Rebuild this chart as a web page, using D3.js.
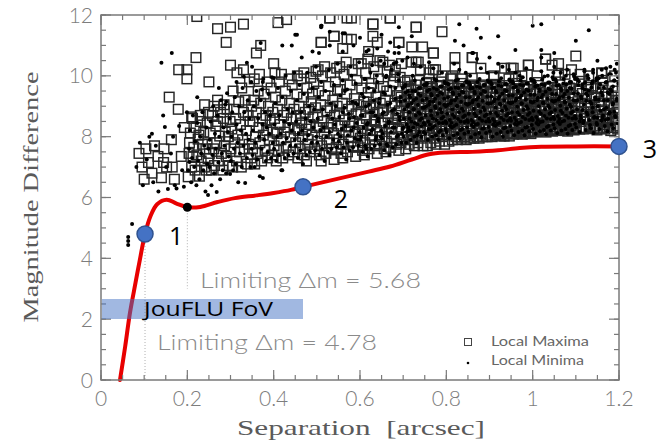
<!DOCTYPE html>
<html><head><meta charset="utf-8">
<script src="https://cdn.jsdelivr.net/npm/d3@7"></script>
<style>body{margin:0;background:#fff}svg{display:block}</style>
</head><body>
<svg id="c" width="665" height="442"></svg>
<script>
// ---- data ----
const xTickLabels = [0, 0.2, 0.4, 0.6, 0.8, 1, 1.2];
const yTickLabels = [0, 2, 4, 6, 8, 10, 12];
// Detection limit curve [separation arcsec, magnitude difference]
const limitCurve = [[0.044,0],[0.056,1.1],[0.067,2.2],[0.08,3.2],[0.09,3.95],[0.102,4.8],[0.115,5.4],[0.13,5.78],[0.152,5.93],[0.175,5.8],[0.2,5.68],[0.23,5.69],[0.27,5.85],[0.31,5.98],[0.36,6.07],[0.40,6.15],[0.44,6.25],[0.468,6.35],[0.55,6.62],[0.62,6.85],[0.67,7.02],[0.72,7.25],[0.76,7.42],[0.80,7.48],[0.86,7.5],[0.92,7.55],[0.97,7.63],[1.02,7.67],[1.1,7.68],[1.2,7.68]];
const markedPoints = [{x:0.102,y:4.8,label:"1"},{x:0.468,y:6.35,label:"2"},{x:1.2,y:7.68,label:"3"}];
const limitDot = {x:0.2, y:5.68};
const limitTexts = ["Limiting \u0394m = 5.68", "Limiting \u0394m = 4.78"];
// Local maxima (squares) / minima (dots): "x y" with x in 1/1000 arcsec, y in 1/100 mag
const localMaxima = `
88 745,95 700,100 660,104 760,110 715,118 680,124 770,132 735,140 665,146 760,152 700,158 930,163 790,170 660,179 890,180 1020,186 735,193 830,199 1020,199 990,165 700,145 715,
202 668,204 745,207 812,210 700,212 860,215 765,218 690,220 830,222 740,225 792,228 670,230 850,232 720,235 775,238 815,240 700,243 760,246 845,248 728,205 780,213 735,227 805,244 690,210 865,230 870,240 905,249 880,220 1060,222 1195,
251 745,253 812,256 690,258 870,261 760,263 705,266 835,268 780,270 850,272 720,275 802,277 880,279 745,282 690,284 860,286 770,288 815,290 735,292 890,295 800,297 705,299 850,262 900,270 920,285 905,250 980,270 1155,300 1160,290 1110,300 1035,
301 760,303 825,305 700,308 890,310 780,312 860,314 720,317 805,319 915,321 750,323 840,325 700,328 790,330 880,332 760,334 920,337 820,339 710,341 870,343 775,345 850,347 730,349 900,306 950,326 960,344 980,330 1170,330 1020,315 1010,
351 760,352 850,354 920,356 710,358 800,360 880,362 745,364 950,366 830,368 780,370 910,372 720,374 860,376 805,378 940,380 755,382 870,384 820,386 730,388 900,390 790,392 855,394 960,396 740,398 880,399 815,355 990,367 1005,385 980,360 1075,370 1100,
401 770,402 860,404 930,406 720,408 810,409 890,411 755,413 980,415 840,417 790,419 920,421 730,423 870,425 815,427 950,429 765,431 880,433 830,435 740,437 910,439 800,441 860,443 970,445 750,447 890,449 825,403 1010,418 1005,436 990,400 1040,410 1175,430 1185,
451 780,452 860,454 940,456 730,458 820,459 900,461 760,463 990,465 845,467 800,469 930,471 740,473 880,475 825,477 960,479 775,481 890,483 840,485 750,487 915,489 805,491 865,493 975,495 760,497 895,499 830,455 1000,470 1010,486 995,498 1015,462 870,476 720,490 940,480 790,
501 785,502 870,504 950,506 740,507 830,509 905,511 770,513 1000,515 850,517 810,519 935,521 745,523 885,525 830,527 965,529 780,531 895,533 845,535 760,537 920,539 810,541 870,543 980,545 765,547 900,549 835,503 1020,518 1030,532 1010,546 1025,510 720,524 790,540 725,548 955,510 1110,540 1130,530 1190,
551 790,552 875,554 955,556 745,557 835,559 910,561 775,563 1005,565 855,567 815,569 940,571 750,573 890,575 835,577 970,579 785,581 900,583 850,585 765,587 925,589 815,591 875,593 985,595 770,597 905,599 840,553 1030,568 1045,582 1020,596 1040,560 730,574 800,590 735,570 1120,580 1190,560 1090,
601 795,602 880,604 960,606 755,607 840,609 915,611 780,613 1010,615 860,617 820,619 945,621 760,623 895,625 840,627 975,629 790,631 905,633 855,635 770,637 930,639 820,641 880,643 990,645 775,647 910,649 845,603 1040,618 1055,632 1030,646 1050,610 740,624 805,640 745,630 1170,640 1110,620 1080,
651 800,652 885,654 965,656 760,657 845,659 920,661 785,663 1015,665 865,667 825,669 950,671 765,673 900,675 845,677 980,679 795,681 910,683 860,685 775,687 935,689 825,691 885,693 995,695 780,697 915,699 850,653 1045,668 1035,682 1020,696 1040,660 750,674 810,690 755,670 1190,690 1110,
605 820,615 900,625 960,635 850,645 800,655 890,662 950,672 830,680 1000,688 870,695 930,698 800,
701 790,702 850,703 920,704 980,706 760,707 830,708 895,709 955,711 800,712 870,713 930,714 775,716 845,717 910,718 965,719 815,721 880,722 790,723 940,724 860,726 770,727 825,728 900,729 970,731 805,732 860,733 930,734 780,736 845,737 905,738 985,739 820,741 875,742 795,743 945,744 860,746 770,747 830,748 915,749 880,720 1045,740 1020,730 1160,745 1095,735 1045,
751 800,752 860,753 925,754 975,756 770,757 835,758 900,759 950,761 805,762 875,763 935,764 780,766 850,767 910,768 960,769 820,771 885,772 795,773 940,774 865,776 775,777 830,778 905,779 965,781 810,782 865,783 930,784 785,786 850,787 910,788 980,789 825,791 880,792 800,793 945,794 860,796 775,797 835,798 915,799 885,760 1010,790 1000,770 1075,775 1020,
801 805,802 865,803 920,804 970,806 785,807 840,808 900,809 950,811 810,812 875,813 930,814 790,816 850,817 905,818 960,819 820,821 885,822 800,823 940,824 865,826 790,827 830,828 905,829 965,831 810,832 865,833 925,834 795,836 850,837 910,838 975,839 825,841 880,842 800,843 945,844 860,846 790,847 835,848 915,849 885,815 1000,835 990,820 1060,
851 805,852 860,853 920,854 965,856 795,857 835,858 895,859 950,861 810,862 870,863 930,864 795,866 850,867 905,868 960,869 820,871 880,872 800,873 940,874 860,876 795,877 830,878 900,879 965,881 810,882 865,883 925,884 800,886 845,887 910,888 970,889 825,891 880,892 800,893 945,894 855,896 800,897 835,898 915,899 880,860 1060,880 1025,
901 805,902 855,903 915,904 962,906 800,907 838,908 898,909 948,911 812,912 868,913 928,914 805,916 852,917 902,918 958,919 818,921 878,922 808,923 938,924 858,926 802,927 832,928 898,929 962,931 808,932 868,933 922,934 802,936 848,937 908,938 968,939 828,941 882,942 812,943 942,944 858,946 802,947 838,948 912,949 878,910 1000,935 1025,945 990,
951 810,952 862,953 918,954 958,956 808,957 842,958 892,959 945,961 815,962 872,963 925,964 810,966 855,967 898,968 955,969 822,971 875,972 812,973 935,974 862,976 808,977 828,978 895,979 960,981 812,982 870,983 918,984 815,986 845,987 905,988 965,989 830,991 885,992 815,993 940,994 855,996 810,997 840,998 910,999 875,955 1025,990 1035,975 1000,
1001 818,1002 858,1003 915,1004 955,1006 815,1007 845,1008 890,1009 942,1011 818,1012 870,1013 922,1014 820,1016 858,1017 895,1018 952,1019 825,1021 872,1022 822,1023 932,1024 865,1026 818,1027 825,1028 892,1029 958,1031 815,1032 868,1033 915,1034 822,1036 842,1037 902,1038 962,1039 832,1041 882,1042 820,1043 938,1044 852,1046 818,1047 842,1048 908,1049 872,1030 1055,1045 1035,1060 1040,
1051 825,1052 862,1053 912,1054 952,1056 822,1057 848,1058 895,1059 940,1061 820,1062 875,1063 920,1064 828,1066 855,1067 900,1068 950,1069 828,1071 878,1072 825,1073 930,1074 862,1076 822,1077 830,1078 888,1079 955,1081 818,1082 865,1083 912,1084 826,1086 845,1087 898,1088 958,1089 835,1091 885,1092 825,1093 935,1094 855,1096 822,1097 845,1098 905,1099 870,1075 1005,1090 1020,
1101 828,1103 865,1105 915,1107 950,1109 825,1111 850,1113 898,1115 942,1117 825,1119 880,1121 925,1123 830,1125 860,1127 905,1129 955,1131 832,1133 882,1135 828,1137 935,1139 865,1141 826,1143 835,1145 890,1147 958,1149 822,1151 870,1153 915,1155 828,1157 850,1159 900,1161 962,1163 840,1165 888,1167 825,1169 940,1171 858,1173 830,1175 848,1177 908,1179 875,1181 820,1183 930,1185 860,1187 830,1189 895,1191 950,1193 835,1195 880,1197 825,1199 920,1130 1000,1160 1010,1190 1000,
1030 1055,1100 1065,990 1035,950 1025,860 1060,820 1025,770 1075,720 1095,730 1045,770 1020,790 1145,730 1160,670 1190,630 1170,570 1190,530 1190,510 1110,540 1130,580 1120,630 1130,690 1110,
705 870,713 960,720 820,728 875,735 940,743 905,748 850,710 985,725 915,740 830,
755 880,763 965,770 840,778 880,785 945,793 910,798 855,760 990,775 920,790 835,
805 885,813 968,820 845,828 885,835 948,843 912,848 858,810 990,825 925,840 838,
855 888,863 970,870 848,878 888,885 950,893 915,898 860,860 992,875 928,890 840,
905 890,913 972,920 850,928 890,935 952,943 918,948 862,910 995,925 930,940 845,
955 892,963 975,970 852,978 892,985 955,993 920,998 865,960 998,975 932,990 848,
1005 895,1013 978,1020 855,1028 895,1035 958,1043 922,1048 868,1010 1000,1025 935,1040 850,
1055 898,1063 980,1070 858,1078 898,1085 960,1093 925,1098 870,1060 1002,1075 938,1090 852,
1105 900,1113 982,1120 860,1128 900,1135 962,1143 928,1148 872,1110 1005,1125 940,1140 855,
1155 902,1163 985,1170 862,1178 902,1185 965,1193 930,1198 875,1160 1008,1175 942,1190 858`;
const localMinima = `
63 444,63 457,63 470,72 513,
82 700,90 780,97 640,106 725,112 800,118 810,121 650,127 770,133 620,140 1043,144 870,148 832,151 700,155 628,162 745,167 800,171 640,175 630,181 835,188 690,192 635,199 880,205 717,164 1075,
202 690,204 760,206 820,209 650,211 730,213 870,216 700,218 785,221 640,223 845,225 720,228 660,230 800,232 745,235 880,237 690,239 770,242 620,244 830,246 710,248 608,249 760,223 930,
251 700,252 790,254 850,256 640,258 740,260 900,262 680,264 810,266 760,268 618,270 870,272 715,274 800,276 660,278 920,280 745,282 690,284 830,286 770,288 905,290 680,292 943,294 815,296 735,298 860,299 677,273 960,290 915,
301 720,302 800,304 880,306 690,308 760,310 930,312 710,314 840,316 780,318 650,320 900,322 745,324 820,326 700,328 960,330 770,332 880,334 648,336 810,338 730,340 920,342 790,344 860,346 700,348 980,349 760,314 980,331 997,338 1043,350 1030,
351 740,352 820,354 900,356 700,358 780,360 950,362 725,364 860,366 800,368 670,370 920,372 760,374 840,375 664,376 990,378 790,380 880,382 720,384 830,386 750,388 940,390 810,392 870,394 730,396 995,398 780,373 955,375 980,400 993,370 1108,
401 760,402 840,404 910,406 720,408 800,410 960,412 740,414 870,416 810,418 690,420 930,422 780,424 850,426 730,428 1000,430 795,432 890,434 740,436 840,438 770,440 950,442 820,444 880,446 745,448 1010,449 790,420 690,442 1100,454 1135,
451 770,452 850,454 920,456 730,458 810,460 970,462 755,464 880,466 820,468 710,470 940,472 790,474 860,476 740,478 1010,480 805,482 900,484 750,486 850,488 780,490 960,492 830,494 890,496 755,498 1030,499 800,465 1060,490 1080,
501 780,502 860,504 930,506 740,508 820,510 980,512 760,514 890,516 830,518 720,520 950,522 800,524 870,526 750,528 1020,530 815,532 910,534 760,536 860,538 790,540 970,542 840,544 900,546 765,548 1040,549 810,505 1075,530 1100,511 1165,
551 785,552 865,554 935,556 745,558 825,560 985,562 765,564 895,566 835,568 725,570 955,572 805,574 875,576 755,578 1030,580 820,582 915,584 765,586 865,588 795,590 975,592 845,594 905,596 770,598 1045,599 815,560 1080,585 1100,
555 800,560 880,565 950,570 780,575 860,580 1000,585 830,590 910,595 790,
601 790,602 870,604 940,606 750,608 830,610 990,612 770,614 900,616 840,618 735,620 960,622 810,624 880,626 760,628 1035,630 825,632 920,634 770,636 870,638 800,640 980,642 850,644 910,646 775,648 1050,649 820,615 1080,640 1090,
603 800,606 870,609 930,612 990,615 760,618 845,621 905,624 1010,627 820,630 880,633 950,636 790,639 1000,642 860,645 925,648 800,
651 795,652 875,654 945,656 755,658 835,660 995,662 775,664 905,666 845,668 740,670 965,672 815,674 885,676 765,678 1040,680 830,682 925,684 775,686 875,688 805,690 985,692 855,694 915,696 780,698 1050,699 825,665 1080,690 1075,
652 810,655 880,658 940,661 1000,664 770,667 850,670 910,673 1020,676 830,679 890,682 960,685 800,688 1005,691 865,694 930,697 810,699 960,656 1040,684 1045,
701 800,702 860,704 920,705 970,707 780,708 840,710 900,711 950,713 820,714 880,716 930,717 790,719 850,720 910,722 1000,723 830,725 890,726 800,728 950,729 870,731 780,733 840,734 905,736 960,737 815,739 875,740 935,742 800,743 860,745 920,746 990,748 845,749 895,725 1040,740 1030,710 1060,
751 810,752 870,754 925,755 975,757 790,758 850,760 905,761 955,763 825,764 885,766 935,767 800,769 860,770 915,772 990,773 835,775 895,776 805,778 955,779 875,781 790,783 845,784 910,786 965,787 820,789 880,790 940,792 805,793 865,795 925,796 980,798 850,799 900,770 1025,760 1045,790 1010,
801 815,802 875,804 930,805 972,807 795,808 855,810 910,811 958,813 830,814 890,816 940,817 805,819 865,820 920,822 985,823 840,825 900,826 810,828 960,829 880,831 795,833 850,834 915,836 968,837 825,839 885,840 945,842 810,843 870,845 930,846 982,848 855,849 905,818 1040,830 1020,845 1010,855 1000,
851 815,852 875,854 930,855 970,857 798,858 855,860 912,861 960,863 832,864 892,866 942,867 808,869 868,870 922,872 980,873 842,875 902,876 812,878 962,879 882,881 798,883 852,884 918,886 970,887 828,889 888,890 948,892 812,893 872,895 932,896 985,898 858,899 908,862 1075,871 1055,880 1025,895 1010,
901 818,902 878,904 932,905 972,907 800,908 858,910 915,911 962,913 835,914 895,916 945,917 810,919 870,920 925,922 982,923 845,925 905,926 815,928 965,929 885,931 800,933 855,934 920,936 972,937 830,939 890,940 950,942 815,943 875,945 935,946 988,948 860,949 910,915 1010,930 1030,945 1020,
951 820,952 880,954 935,955 975,957 805,958 862,960 918,961 965,963 838,964 898,966 948,967 815,969 872,970 928,972 985,973 848,975 908,976 820,978 968,979 888,981 805,983 858,984 922,986 975,987 832,989 892,990 952,992 818,993 878,995 938,996 990,998 862,999 912,960 1010,985 1025,970 1000,
1001 825,1002 885,1004 938,1005 978,1007 810,1008 865,1010 920,1011 968,1013 840,1014 900,1016 950,1017 818,1019 875,1020 930,1022 988,1023 850,1025 910,1026 822,1028 970,1029 890,1031 808,1033 860,1034 925,1036 978,1037 835,1039 895,1040 955,1042 820,1043 880,1045 940,1046 995,1048 865,1049 915,1020 1015,1035 1000,1048 1010,
1051 828,1052 888,1054 940,1055 980,1057 812,1058 868,1060 922,1061 970,1063 842,1064 902,1066 952,1067 820,1069 878,1070 932,1072 990,1073 852,1075 912,1076 825,1078 972,1079 892,1081 810,1083 862,1084 928,1086 980,1087 838,1089 898,1090 958,1092 822,1093 882,1095 942,1096 998,1098 868,1099 918,1065 1010,1080 1020,1095 1005,
1101 830,1103 890,1105 942,1107 982,1109 815,1111 870,1113 925,1115 972,1117 845,1119 905,1121 955,1123 822,1125 880,1127 935,1129 992,1131 855,1133 915,1135 828,1137 975,1139 895,1141 812,1143 865,1145 930,1147 985,1149 840,1151 900,1153 960,1155 825,1157 885,1159 945,1161 1000,1163 870,1165 920,1167 835,1169 978,1171 895,1173 818,1175 858,1177 940,1179 880,1181 1005,1183 950,1185 905,1187 828,1189 985,1191 868,1193 1010,1195 920,1197 845,1199 975,1120 1020,1140 1010,1160 1020,1180 1030,1195 1040,1150 1050,
830 1170,870 1155,1000 1165,1020 1170,1130 1150,820 1115,880 1125,920 1130,960 1085,1020 1085,1100 1115,840 1100,860 1075,1050 1075,1020 1060,510 1165,900 1060,920 1040,1050 1030,1120 1015,1170 1025,1190 1020,1140 1020,
560 1140,600 1125,650 1135,690 1160,720 1130,620 1085,680 1075,690 1095,670 1110,450 1135,420 1100,510 1160,530 1145,565 1140,
700 830,703 890,706 945,709 815,712 905,715 860,718 820,721 950,724 890,727 845,730 925,733 805,736 880,739 960,742 835,745 895,748 815,703 965,715 935,727 985,739 855,712 830,724 920,736 940,748 970,
750 840,753 900,756 950,759 825,762 915,765 870,768 830,771 960,774 900,777 855,780 935,783 815,786 890,789 965,792 845,795 905,798 825,753 970,765 940,777 985,789 860,762 840,774 925,786 945,798 975,
800 845,803 905,806 955,809 835,812 918,815 872,818 835,821 962,824 902,827 858,830 938,833 822,836 892,839 968,842 848,845 908,848 830,803 975,815 945,827 988,839 865,812 845,824 928,836 948,848 978,
850 848,853 908,856 958,859 838,862 920,865 875,868 840,871 965,874 905,877 860,880 940,883 825,886 895,889 970,892 850,895 910,898 832,853 978,865 948,877 990,889 868,862 848,874 930,886 950,898 980,
900 850,903 910,906 960,909 840,912 922,915 878,918 842,921 968,924 908,927 862,930 942,933 828,936 898,939 972,942 852,945 912,948 835,903 980,915 950,927 992,939 870,912 850,924 932,936 952,948 982,
950 852,953 912,956 962,959 842,962 925,965 880,968 845,971 970,974 910,977 865,980 945,983 830,986 900,989 975,992 855,995 915,998 838,953 982,965 952,977 995,989 872,962 852,974 935,986 955,998 985,
1000 855,1003 915,1006 965,1009 845,1012 928,1015 882,1018 848,1021 972,1024 912,1027 868,1030 948,1033 832,1036 902,1039 978,1042 858,1045 918,1048 840,1003 985,1015 955,1027 998,1039 875,1012 855,1024 938,1036 958,1048 988,
1050 858,1053 918,1056 968,1059 848,1062 930,1065 885,1068 850,1071 975,1074 915,1077 870,1080 950,1083 835,1086 905,1089 980,1092 860,1095 920,1098 842,1053 988,1065 958,1077 1000,1089 878,1062 858,1074 940,1086 960,1098 990,
1100 860,1103 920,1106 970,1109 850,1112 932,1115 888,1118 852,1121 978,1124 918,1127 872,1130 952,1133 838,1136 908,1139 982,1142 862,1145 922,1148 845,1103 990,1115 960,1127 1002,1139 880,1112 860,1124 942,1136 962,1148 992,
1150 862,1153 922,1156 972,1159 852,1162 935,1165 890,1168 855,1171 980,1174 920,1177 875,1180 955,1183 840,1186 910,1189 985,1192 865,1195 925,1198 848,1153 992,1165 962,1177 1005,1189 882,1162 862,1174 945,1186 965,1198 995`;

function parsePairs(s){
  return s.split(/[,\n]+/).map(t=>t.trim()).filter(Boolean).map(t=>{
    const p=t.split(/\s+/); return {x:+p[0]/1000, y:+p[1]/100};
  });
}
const maxima = parsePairs(localMaxima);
const minima = parsePairs(localMinima);

// ---- layout ----
const svg = d3.select("#c");
const x = d3.scaleLinear().domain([0,1.2]).range([101,619]);
const y = d3.scaleLinear().domain([0,12]).range([380,15]);
const gray = "#7a7a7a";

svg.append("defs").append("clipPath").attr("id","plot")
  .append("rect").attr("x",101).attr("y",15).attr("width",518).attr("height",365);

const plot = svg.append("g").attr("clip-path","url(#plot)");

plot.append("g").selectAll("rect").data(maxima).join("rect")
  .attr("x",d=>x(d.x)-4.8).attr("y",d=>y(d.y)-4.8)
  .attr("width",9.6).attr("height",9.6)
  .attr("fill","none").attr("stroke","#262626").attr("stroke-width",1.45);
plot.append("g").selectAll("circle").data(minima).join("circle")
  .attr("cx",d=>x(d.x)).attr("cy",d=>y(d.y)).attr("r",2.0).attr("fill","#000");

// dotted guide lines
svg.append("line").attr("x1",x(markedPoints[0].x)).attr("x2",x(markedPoints[0].x))
  .attr("y1",y(markedPoints[0].y)).attr("y2",y(0))
  .attr("stroke","#b0b0b0").attr("stroke-width",1).attr("stroke-dasharray","1,2");
svg.append("line").attr("x1",x(limitDot.x)).attr("x2",x(limitDot.x))
  .attr("y1",y(limitDot.y)).attr("y2",y(3.0))
  .attr("stroke","#b0b0b0").attr("stroke-width",1).attr("stroke-dasharray","1,2");

// curve
const line = d3.line().x(d=>x(d[0])).y(d=>y(d[1])).curve(d3.curveCatmullRom.alpha(0.5));
svg.append("path").attr("d",line(limitCurve)).attr("fill","none")
  .attr("stroke","#e80000").attr("stroke-width",4).attr("stroke-linecap","round");

svg.append("circle").attr("cx",x(limitDot.x)).attr("cy",y(limitDot.y)).attr("r",4.5).attr("fill","#000");

// frame and ticks
const frame = svg.append("g");
frame.append("rect").attr("x",101).attr("y",15).attr("width",518).attr("height",365)
  .attr("fill","none").attr("stroke",gray).attr("stroke-width",1.5);
const xMinor = d3.range(0,1.2001,0.05), xMajor = d3.range(0,1.2001,0.2);
const yMinor = d3.range(0,12.001,0.5), yMajor = d3.range(0,12.001,2);
function ticksX(vals,len){
  vals.forEach(v=>{
    frame.append("line").attr("x1",x(v)).attr("x2",x(v)).attr("y1",380).attr("y2",380-len).attr("stroke",gray).attr("stroke-width",1.2);
    frame.append("line").attr("x1",x(v)).attr("x2",x(v)).attr("y1",15).attr("y2",15+len).attr("stroke",gray).attr("stroke-width",1.2);
  });
}
function ticksY(vals,len){
  vals.forEach(v=>{
    frame.append("line").attr("y1",y(v)).attr("y2",y(v)).attr("x1",101).attr("x2",101+len).attr("stroke",gray).attr("stroke-width",1.2);
    frame.append("line").attr("y1",y(v)).attr("y2",y(v)).attr("x1",619).attr("x2",619-len).attr("stroke",gray).attr("stroke-width",1.2);
  });
}
ticksX(xMinor,5); ticksX(xMajor,10); ticksY(yMinor,5); ticksY(yMajor,10);

const lab = svg.append("g").attr("font-family","Lato, 'DejaVu Sans', sans-serif").attr("font-weight",300).attr("fill","#7d7d7d");
lab.selectAll("text.xt").data(xTickLabels).join("text").attr("class","xt")
  .attr("x",d=>x(d)).attr("y",406).attr("text-anchor","middle").attr("font-size",21)
  .text(d=>d===0?"0":d===1?"1":d.toFixed(1));
lab.selectAll("text.yt").data(yTickLabels).join("text").attr("class","yt")
  .attr("x",93).attr("y",d=>y(d)+7.5).attr("text-anchor","end").attr("font-size",21)
  .text(d=>d);

// axis titles
svg.append("text").attr("x",361).attr("y",435).attr("text-anchor","middle")
  .attr("font-family","'Liberation Serif', 'DejaVu Serif', serif").attr("font-size",22).attr("fill","#5a5a5a")
  .attr("textLength",248).attr("lengthAdjust","spacingAndGlyphs").attr("xml:space","preserve").text("Separation  [arcsec]");
svg.append("text").attr("transform","translate(38,197) rotate(-90)").attr("text-anchor","middle")
  .attr("font-family","'Liberation Serif', 'DejaVu Serif', serif").attr("font-size",22).attr("fill","#5a5a5a")
  .attr("textLength",251).attr("lengthAdjust","spacingAndGlyphs").text("Magnitude Difference");

// limiting texts
svg.append("text").attr("x",200).attr("y",288).attr("font-family","Lato, sans-serif").attr("font-weight",300)
  .attr("font-size",21).attr("fill","#8a8a8a").attr("textLength",221).attr("lengthAdjust","spacingAndGlyphs").text(limitTexts[0]);
svg.append("text").attr("x",157).attr("y",350).attr("font-family","Lato, sans-serif").attr("font-weight",300)
  .attr("font-size",21).attr("fill","#8a8a8a").attr("textLength",220).attr("lengthAdjust","spacingAndGlyphs").text(limitTexts[1]);

// JouFLU FoV band
svg.append("rect").attr("x",102).attr("y",299).attr("width",201).attr("height",20)
  .attr("fill","#4472c4").attr("fill-opacity",0.5);
svg.append("text").attr("x",144).attr("y",316).attr("font-family","'Open Sans', 'Noto Sans', sans-serif")
  .attr("font-size",20).attr("fill","#000").attr("textLength",129).attr("lengthAdjust","spacingAndGlyphs").text("JouFLU FoV");

// marked blue points + labels
svg.selectAll("circle.mp").data(markedPoints).join("circle").attr("class","mp")
  .attr("cx",d=>x(d.x)).attr("cy",d=>y(d.y)).attr("r",8)
  .attr("fill","#4472c4").attr("stroke","#2f528f").attr("stroke-width",1.5);
const labOff = {"1":[31,245],"2":[38,208],"3":[31,158]};
svg.selectAll("text.ml").data(markedPoints).join("text").attr("class","ml")
  .attr("x",d=>x(d.x)+labOff[d.label][0]).attr("y",d=>labOff[d.label][1])
  .attr("text-anchor","middle").attr("font-family","'Open Sans', 'Noto Sans', sans-serif").attr("font-size",25).attr("fill","#000")
  .text(d=>d.label);

// legend
const lg = svg.append("g");
lg.append("rect").attr("x",464.5).attr("y",338.5).attr("width",7).attr("height",7).attr("fill","none").attr("stroke","#444").attr("stroke-width",1);
lg.append("circle").attr("cx",468).attr("cy",363).attr("r",1.3).attr("fill","#000");
lg.append("text").attr("x",491).attr("y",346).attr("font-family","Lato, sans-serif").attr("font-size",14).attr("fill","#666").attr("textLength",98).attr("lengthAdjust","spacingAndGlyphs").text("Local Maxima");
lg.append("text").attr("x",491).attr("y",365).attr("font-family","Lato, sans-serif").attr("font-size",14).attr("fill","#666").attr("textLength",93).attr("lengthAdjust","spacingAndGlyphs").text("Local Minima");
</script>
</body></html>
